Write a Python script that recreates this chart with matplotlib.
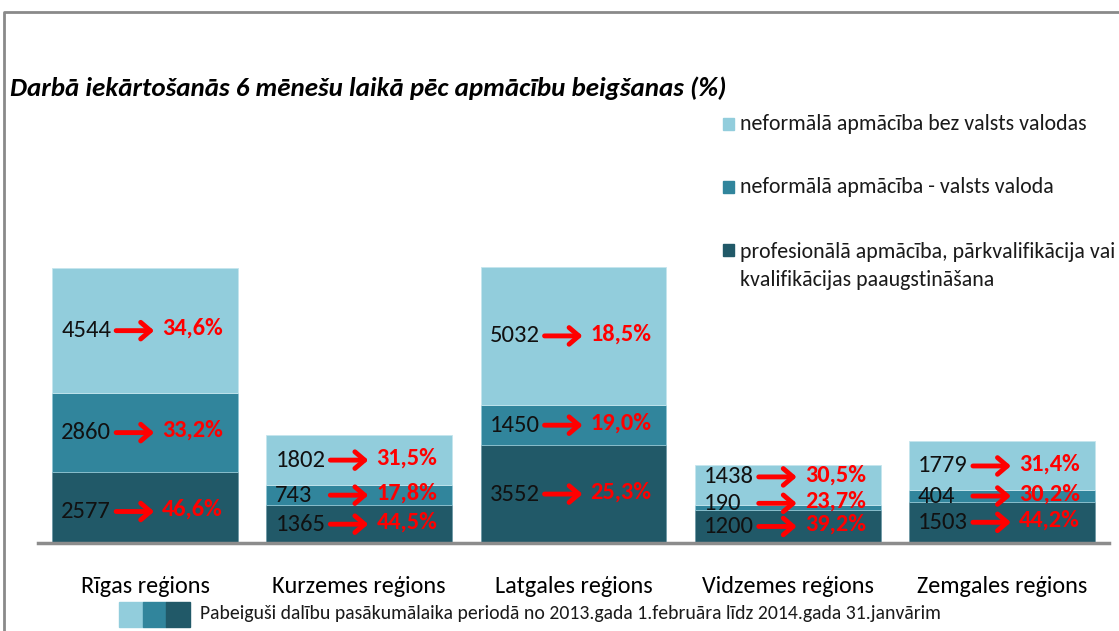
import matplotlib
matplotlib.use("Agg")
import matplotlib.pyplot as plt
from matplotlib.patches import Rectangle
from matplotlib.lines import Line2D

plt.rcParams['font.family'] = ['Carlito', 'DejaVu Sans']

regions = ['Rīgas reģions', 'Kurzemes reģions', 'Latgales reģions',
           'Vidzemes reģions', 'Zemgales reģions']
prof = [2577, 1365, 3552, 1200, 1503]      # profesionālā apmācība
valsts = [2860, 743, 1450, 190, 404]       # neformālā - valsts valoda
bez = [4544, 1802, 5032, 1438, 1779]       # neformālā bez valsts valodas
prof_pct = ['46,6%', '44,5%', '25,3%', '39,2%', '44,2%']
valsts_pct = ['33,2%', '17,8%', '19,0%', '23,7%', '30,2%']
bez_pct = ['34,6%', '31,5%', '18,5%', '30,5%', '31,4%']

series_names = ['neformālā apmācība bez valsts valodas',
                'neformālā apmācība - valsts valoda',
                'profesionālā apmācība, pārkvalifikācija vai\nkvalifikācijas paaugstināšana']
title = 'Darbā iekārtošanās 6 mēnešu laikā pēc apmācību beigšanas (%)'
footnote = 'Pabeiguši dalību pasākumālaika periodā no 2013.gada 1.februāra līdz 2014.gada 31.janvārim'

c_light, c_mid, c_dark = '#92CDDC', '#31859C', '#215968'

W, H = 1119, 631
fig = plt.figure(figsize=(W / 100, H / 100), dpi=100)
renderer = fig.canvas.get_renderer()


def fx(px):
    return px / W


def fy(py):
    return 1 - py / H


def fit(t, target_px):
    bb = t.get_window_extent(renderer)
    t.set_fontsize(t.get_fontsize() * target_px / bb.width)
    return t.get_fontsize()


# plot area: baseline at y=543px, bars 214 px apart
ax = fig.add_axes([fx(38), fy(543), fx(1071), 303 / H])
ax.set_xlim(-0.5, 4.5)
ax.set_ylim(0, 11000)
x = range(len(regions))
bw = 0.868
b2 = [a + b for a, b in zip(prof, valsts)]
ax.bar(x, prof, bw, color=c_dark, edgecolor='#6f9aa6', lw=0.6)
ax.bar(x, valsts, bw, bottom=prof, color=c_mid, edgecolor='#8fc4d2', lw=0.6)
ax.bar(x, bez, bw, bottom=b2, color=c_light, edgecolor='#c5e6ee', lw=0.6)

for s in ['top', 'left', 'right']:
    ax.spines[s].set_visible(False)
ax.spines['bottom'].set_color('#8c8c8c')
ax.spines['bottom'].set_linewidth(2.5)
ax.set_yticks([])
ax.set_xticks(list(x))
ax.set_xticklabels(regions)
ax.tick_params(axis='x', length=0, pad=24)

# fit category label size
tmp = fig.text(0, 0, regions[0])
cat_fs = fit(tmp, 129)
tmp.remove()
for lab in ax.get_xticklabels():
    lab.set_fontsize(cat_fs)

# annotation font sizes
tmp = fig.text(0, 0, '4544')
num_fs = fit(tmp, 50)
tmp.remove()
tmp = fig.text(0, 0, '34,6%', fontweight='bold')
pct_fs = fit(tmp, 61)
tmp.remove()

upx = 5 / 1071          # data units per pixel in x
upy = 11000 / 303       # data units per pixel in y

# small vertical nudges in px (positive = up) for crowded segments
nudge = {(3, 2): 8, (3, 1): 4, (0, 0): -4}

layers = [(prof, prof_pct, [0] * 5), (valsts, valsts_pct, prof), (bez, bez_pct, b2)]
for i in x:
    left = i - bw / 2
    for k, (vals, pcts, bots) in enumerate(layers):
        yc = bots[i] + vals[i] / 2 + nudge.get((i, k), 0) * upy
        ax.text(left + 9 * upx, yc, str(vals[i]), fontsize=num_fs,
                color='#111111', ha='left', va='center')
        ax.annotate('', xy=(left + 102 * upx, yc), xytext=(left + 64 * upx, yc),
                    arrowprops=dict(arrowstyle='->,head_length=0.7,head_width=0.6',
                                    color='#ff0000', lw=3.5, shrinkA=0, shrinkB=0))
        ax.text(left + 110 * upx, yc + 2 * upy, pcts[i], fontsize=pct_fs,
                fontweight='bold', color='#ff0000', ha='left', va='center')

# title
t = fig.text(fx(10), fy(88), title, fontweight='bold', fontstyle='italic',
             ha='left', va='center', color='#000000')
fit(t, 718)

# legend on the right
leg_y = [124, 187, 266]
leg_c = [c_light, c_mid, c_dark]
leg_fs = None
for name, yy, c in zip(series_names, leg_y, leg_c):
    sq_y = yy if '\n' not in name else 250
    fig.add_artist(Rectangle((fx(723), fy(sq_y + 6)), fx(11), 12 / H,
                             transform=fig.transFigure, color=c))
    tt = fig.text(fx(740), fy(yy), name, ha='left', va='center',
                  color='#1a1a1a', linespacing=1.55)
    if leg_fs is None:
        leg_fs = fit(tt, 348)
    else:
        tt.set_fontsize(leg_fs)

# bottom legend
for j, c in enumerate([c_light, c_mid, c_dark]):
    fig.add_artist(Rectangle((fx(119 + j * 23.7), fy(627)), fx(23.7), 25 / H,
                             transform=fig.transFigure, color=c))
ft = fig.text(fx(200), fy(614), footnote, ha='left', va='center', color='#1a1a1a')
fit(ft, 746)

# outer frame
fig.add_artist(Line2D([fx(4), fx(4), 1], [0, fy(12), fy(12)],
                      transform=fig.transFigure, color='#8a8a8a', lw=2))

fig.savefig('out.png', dpi=100, facecolor='white')
